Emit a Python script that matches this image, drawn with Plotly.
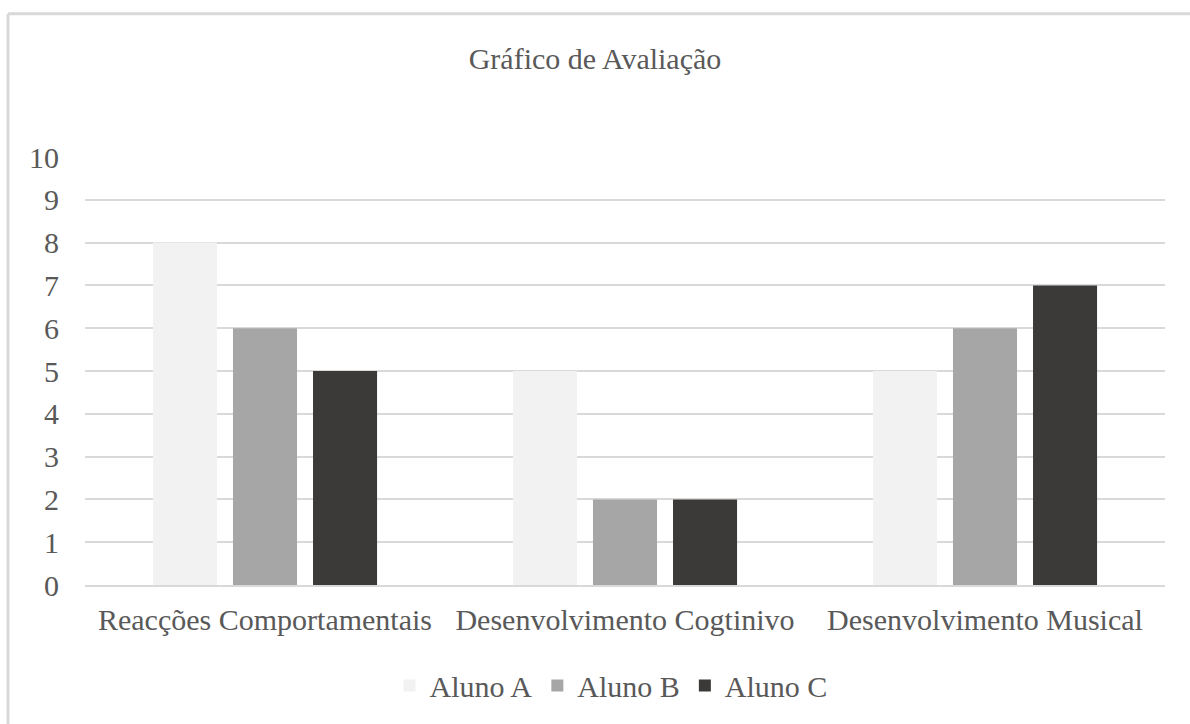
import plotly.graph_objects as go

# Evaluation scores per category and student
categories = ["Reacções Comportamentais", "Desenvolvimento Cogtinivo", "Desenvolvimento Musical"]
aluno_a = [8, 5, 5]
aluno_b = [6, 2, 6]
aluno_c = [5, 2, 7]
series_names = ["Aluno A", "Aluno B", "Aluno C"]
y_ticks = [0, 1, 2, 3, 4, 5, 6, 7, 8, 9, 10]

colors = ["#f2f2f2", "#a6a6a6", "#3b3a39"]
font_family = "Liberation Serif"
font_size = 30
text_color = "#595959"
grid_color = "#d9d9d9"

W, H = 1190, 724
L, R, T, B = 85, 25, 157, 137

fig = go.Figure()
for name, vals, col in zip(series_names, [aluno_a, aluno_b, aluno_c], colors):
    fig.add_trace(go.Bar(
        x=categories, y=vals, name=name,
        marker=dict(color=col, line=dict(width=0)),
    ))

pw = W - L - R
ph = H - T - B

def px_to_paper_x(px):
    return (px - L) / pw

def px_to_paper_y(py):
    return 1 - (py - T) / ph

# Chart frame (left and top edges)
frame_x = px_to_paper_x(8)
frame_y = px_to_paper_y(13)
fig.add_shape(type="line", xref="paper", yref="paper",
              x0=frame_x, x1=frame_x, y0=px_to_paper_y(H + 10), y1=frame_y,
              line=dict(color=grid_color, width=3))
fig.add_shape(type="line", xref="paper", yref="paper",
              x0=frame_x, x1=px_to_paper_x(W + 10), y0=frame_y, y1=frame_y,
              line=dict(color=grid_color, width=3))

fig.update_layout(
    width=W, height=H,
    margin=dict(l=L, r=R, t=T, b=B, pad=0),
    paper_bgcolor="white", plot_bgcolor="white",
    barmode="group", bargap=0.333, bargroupgap=0.2,
    font=dict(family=font_family, size=font_size, color=text_color),
    title=dict(text="Gráfico de Avaliação", x=0.5, xanchor="center",
               y=1 - 58 / H, yanchor="middle", yref="container",
               font=dict(family=font_family, size=font_size, color=text_color)),
    xaxis=dict(showgrid=False, showline=True, linecolor=grid_color, linewidth=1.5,
               ticks="", ticklabelstandoff=7,
               tickfont=dict(family=font_family, size=font_size, color=text_color)),
    yaxis=dict(range=[0, 10], tickvals=y_ticks, showgrid=True, gridcolor=grid_color,
               gridwidth=1.5, zeroline=False, showline=False, ticks="",
               ticklabelstandoff=25,
               tickfont=dict(family=font_family, size=font_size, color=text_color)),
    legend=dict(orientation="h", x=px_to_paper_x(611), xanchor="center", y=px_to_paper_y(688),
                yanchor="middle", font=dict(family=font_family, size=font_size, color=text_color),
                bgcolor="rgba(0,0,0,0)", itemclick=False),
    showlegend=True,
)

fig.write_html("out.html")
